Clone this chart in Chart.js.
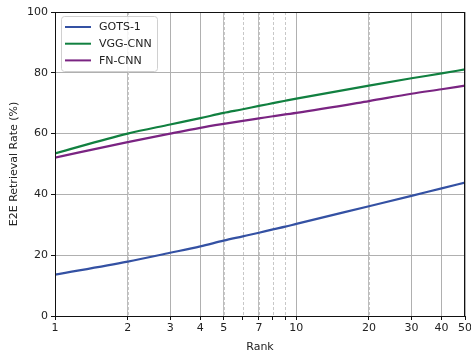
<!DOCTYPE html>
<html>
<head>
<meta charset="utf-8">
<script src="https://cdn.jsdelivr.net/npm/chart.js@4/dist/chart.umd.min.js"></script>
<style>
html,body{margin:0;padding:0;background:#fff;}
#wrap{width:471px;height:354px;}
</style>
</head>
<body>
<div id="wrap"><canvas id="c" width="471" height="354"></canvas></div>
<script>
const ranks = [1,2,3,4,5,6,7,8,9,10,20,30,40,50];
const gots1 = [13.6,17.9,20.8,22.9,24.8,26.2,27.4,28.5,29.4,30.3,36.1,39.5,42.0,43.9];
const vggCnn = [53.5,60.0,63.0,65.1,66.8,68.0,69.1,70.0,70.8,71.5,75.8,78.2,79.8,81.1];
const fnCnn = [52.1,57.2,60.0,61.9,63.2,64.2,65.0,65.7,66.3,66.8,70.7,73.1,74.6,75.8];
const seriesNames = ['GOTS-1','VGG-CNN','FN-CNN'];
const xTickValues = [1,2,3,4,5,6,7,8,9,10,20,30,40,50];
const xTickLabels = [1,2,3,4,5,7,10,20,30,40,50];
const xDashedGrid = [2,5,6,7,8,9,20];
const yTicks = [0,20,40,60,80,100];

const colors = ['#3451a3','#118040','#7a2482'];
const FONT = {family:'"DejaVu Sans", sans-serif', size:11};

function pts(vals){ return ranks.map((r,i)=>({x:r,y:vals[i]})); }

const extras = {
  id:'extras',
  beforeDatasetsDraw(chart){
    const ctx = chart.ctx, xs = chart.scales.x, a = chart.chartArea;
    ctx.save();
    ctx.strokeStyle = '#c8c8c8';
    ctx.lineWidth = 1;
    ctx.setLineDash([3,2]);
    xDashedGrid.forEach(v=>{
      const px = Math.round(xs.getPixelForValue(v))+0.5;
      ctx.beginPath(); ctx.moveTo(px,a.top); ctx.lineTo(px,a.bottom); ctx.stroke();
    });
    ctx.restore();
  },
  afterDatasetsDraw(chart){
    const ctx = chart.ctx, a = chart.chartArea;
    ctx.save();
    ctx.strokeStyle = '#111';
    ctx.lineWidth = 1;
    ctx.strokeRect(Math.round(a.left)+0.5, Math.round(a.top)+0.5, Math.round(a.right-a.left)-1, Math.round(a.bottom-a.top));
    // legend
    const bx = a.left+6, by = a.top+4, bw = 96, bh = 55;
    ctx.beginPath();
    if (ctx.roundRect) ctx.roundRect(bx+0.5,by+0.5,bw,bh,3); else ctx.rect(bx+0.5,by+0.5,bw,bh);
    ctx.fillStyle = 'rgba(255,255,255,0.85)';
    ctx.fill();
    ctx.strokeStyle = '#d0d0d0';
    ctx.stroke();
    ctx.font = '11px "DejaVu Sans", sans-serif';
    ctx.textBaseline = 'middle';
    ctx.textAlign = 'left';
    chart.data.datasets.forEach((ds,i)=>{
      const y = by + 11 + i*16.7;
      ctx.strokeStyle = ds.borderColor; ctx.lineWidth = 2;
      ctx.beginPath(); ctx.moveTo(bx+4,y); ctx.lineTo(bx+30,y); ctx.stroke();
      ctx.fillStyle = '#222';
      ctx.fillText(ds.label, bx+38, y+0.5);
    });
    ctx.restore();
  }
};

new Chart(document.getElementById('c'), {
  type:'line',
  data:{
    datasets:[
      {label:seriesNames[0], data:pts(gots1), borderColor:colors[0], backgroundColor:colors[0]},
      {label:seriesNames[1], data:pts(vggCnn), borderColor:colors[1], backgroundColor:colors[1]},
      {label:seriesNames[2], data:pts(fnCnn), borderColor:colors[2], backgroundColor:colors[2]}
    ]
  },
  options:{
    responsive:false,
    animation:false,
    devicePixelRatio:1,
    layout:{padding:{left:8,right:6,top:12,bottom:0}},
    elements:{line:{borderWidth:2.2,tension:0.3,cubicInterpolationMode:'monotone'},point:{radius:0,hoverRadius:0}},
    plugins:{legend:{display:false},tooltip:{enabled:false}},
    scales:{
      x:{
        type:'logarithmic', min:1, max:50,
        afterBuildTicks(s){ s.ticks = xTickValues.map(v=>({value:v})); },
        afterFit(s){ s.height = 38; s.paddingLeft = 0; s.paddingRight = 0; },
        ticks:{
          autoSkip:false, maxRotation:0, padding:2, color:'#222', font:FONT,
          callback:(v)=> xTickLabels.includes(v) ? String(v) : ''
        },
        grid:{
          color:(c)=> (c.tick && xTickLabels.includes(c.tick.value) && !xDashedGrid.includes(c.tick.value)) ? '#b0b0b0' : (c.tick && xDashedGrid.includes(c.tick.value) && xTickLabels.includes(c.tick.value) ? '#bdbdbd' : 'rgba(0,0,0,0)'),
          tickColor:'#111', tickLength:4, lineWidth:1
        },
        border:{display:false},
        title:{display:true,text:'Rank',color:'#222',font:FONT,padding:{top:0,bottom:0}}
      },
      y:{
        min:0, max:100,
        afterBuildTicks(s){ s.ticks = yTicks.map(v=>({value:v})); },
        afterFit(s){ s.width = 47; },
        ticks:{color:'#222', font:FONT, padding:3},
        grid:{color:'#b0b0b0', tickColor:'#111', tickLength:4, lineWidth:1},
        border:{display:false},
        title:{display:true,text:'E2E Retrieval Rate (%)',color:'#222',font:FONT,padding:{top:0,bottom:0}}
      }
    }
  },
  plugins:[extras]
});
</script>
</body>
</html>
